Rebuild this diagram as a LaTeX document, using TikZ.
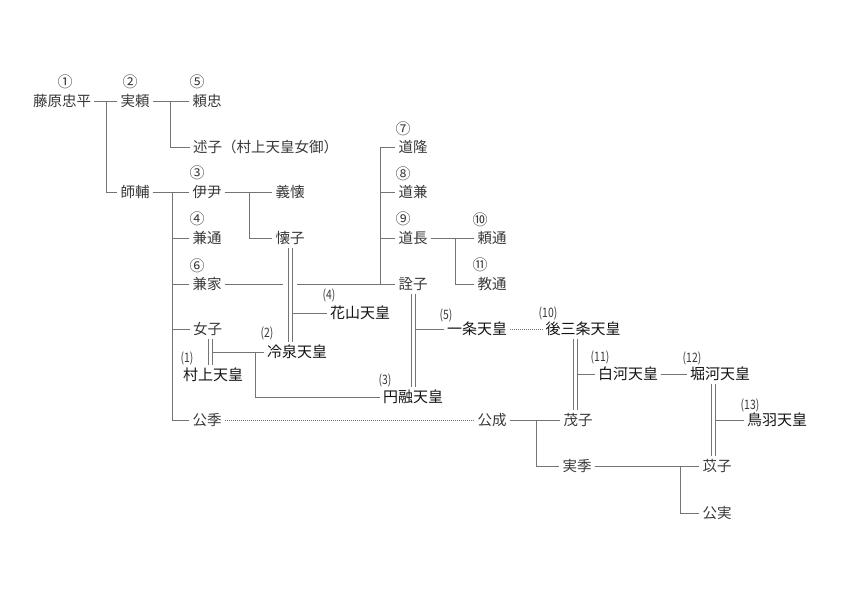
\documentclass[tikz,border=0pt]{standalone}
\usepackage{fontspec}
\setmainfont{Noto Sans CJK JP}
\usepackage{xcolor}
\usepackage{tikz}

\definecolor{linegray}{HTML}{747474}
\definecolor{namegray}{HTML}{383838}
\definecolor{tennoblack}{HTML}{151515}

\newcommand{\pn}[1]{\scalebox{0.8}[1]{(#1)}}
% two thin lines for a marriage (shift, from, to)
\newcommand{\couple}[3]{\draw [line] ([xshift=#1-2pt]#2) -- ([xshift=#1-2pt]#3) ([xshift=#1+2pt]#2) -- ([xshift=#1+2pt]#3);}

\begin{document}
\begin{tikzpicture}[x=1pt, y=-1pt,
  person/.style={inner sep=3pt, text height=12.6pt, text depth=1.8pt, font=\fontsize{14.5}{16}\selectfont, text=namegray},
  tenno/.style={person, font=\fontsize{15}{16}\selectfont, text=tennoblack},
  num/.style={inner sep=0pt, font=\fontsize{15}{16}\selectfont, text=namegray},
  pnum/.style={inner sep=0pt, font=\fontsize{13}{14}\selectfont, text=namegray},
  line/.style={draw=linegray, line width=0.85pt},
  faint/.style={draw=linegray, line width=0.6pt, dash pattern=on 0.7pt off 1.3pt}]

\useasboundingbox (0,0) rectangle (841,595);

% Nodes
\node (tadahira) [person] at (62,101) {藤原忠平};
\node (saneyori) [person] at (135,101) {実頼};
\node (yoritada) [person] at (207,101) {頼忠};
\node (nobuko) [person, anchor=west] at (190,147) {述子（村上天皇女御）};
\node (morosuke) [person] at (135,192) {師輔};
\node (koretada) [person] at (207,192) {伊尹};
\node (yoshichika) [person] at (290,192) {義懐};
\node (kanemichi) [person] at (207,238) {兼通};
\node (kaishi) [person] at (290,238) {懐子};
\node (kaneie) [person] at (207,284) {兼家};
\node (nyoshi) [person] at (207.5,329) {女子};
\node (murakami) [tenno] at (213,375) {村上天皇};
\node (kinsue) [person] at (207,420) {公季};
\node (kazan) [tenno] at (360,313) {花山天皇};
\node (reizei) [tenno] at (297,352) {冷泉天皇};
\node (enyu) [tenno] at (413,397) {円融天皇};

\node (michitaka) [person] at (413,147) {道隆};
\node (michikane) [person] at (413,192) {道兼};
\node (michinaga) [person] at (413,238) {道長};
\node (senshi) [person] at (413,284) {詮子};
\node (yorimichi) [person] at (492,238) {頼通};
\node (norimichi) [person] at (492,284) {教通};

\node (ichijo) [tenno] at (477,329) {一条天皇};
\node (gosanjo) [tenno] at (583,329) {後三条天皇};
\node (shirakawa) [tenno] at (628,374) {白河天皇};
\node (horikawa) [tenno] at (720,374) {堀河天皇};
\node (toba) [tenno] at (777,420) {鳥羽天皇};
\node (kinnari) [person] at (492,420) {公成};
\node (shigeko) [person] at (578,420) {茂子};
\node (sanesue) [person] at (577,466) {実季};
\node (ishi) [person] at (717,466) {苡子};
\node (kinzane) [person] at (717,513) {公実};

% Numbers
\node (n1) [num] at (65,82) {①};
\node (n2) [num] at (130,82) {②};
\node (n5) [num] at (197,82) {⑤};
\node (n3) [num] at (197,173) {③};
\node (n4) [num] at (197,219) {④};
\node (n6) [num] at (197,266) {⑥};
\node (n7) [num] at (403,129) {⑦};
\node (n8) [num] at (403,174) {⑧};
\node (n9) [num] at (403,219) {⑨};
\node (n10) [num] at (480,220) {⑩};
\node (n11) [num] at (480,265) {⑪};

\node (p1) [pnum] at (187,358) {\pn{1}};
\node (p2) [pnum] at (267,333) {\pn{2}};
\node (p3) [pnum] at (385,380) {\pn{3}};
\node (p4) [pnum] at (329,295) {\pn{4}};
\node (p5) [pnum] at (446,315) {\pn{5}};
\node (p10) [pnum] at (548,313) {\pn{10}};
\node (p11) [pnum] at (600,357) {\pn{11}};
\node (p12) [pnum] at (692,358) {\pn{12}};
\node (p13) [pnum] at (750,405) {\pn{13}};

% Lines
\coordinate (j1) at (106,101);
\coordinate (j2) at (170,101);
\coordinate (j3) at (172,192);
\coordinate (j4) at (249,192);
\coordinate (j5) at (380,284);
\coordinate (j6) at (455,238);
\coordinate (j7) at (255,352);
\coordinate (j8) at (536,420);
\coordinate (j9) at (680,466);

\draw [line] (tadahira) -- (saneyori);
\draw [line] (j1) |- (morosuke);
\draw [line] (saneyori) -- (yoritada);
\draw [line] (j2) |- (nobuko);

\draw [line] (morosuke) -- (koretada);
\draw [line] (j3) |- (kanemichi) (j3) |- (kaneie) (j3) |- (nyoshi) (j3) |- (kinsue);
\draw [line] (koretada) -- (yoshichika);
\draw [line] (j4) |- (kaishi);

\draw [line] (kaneie) -- ([xshift=-7pt]kaishi |- kaneie);
\draw [line] ([xshift=7pt]kaishi |- kaneie) -- (senshi);
\draw [line] (j5) |- (michitaka) (j5) |- (michikane) (j5) |- (michinaga);
\draw [line] (michinaga) -- (yorimichi);
\draw [line] (j6) |- (norimichi);

% marriages
\couple{0pt}{kaishi.south}{kaishi.south |- reizei.north}
\draw [line] ([xshift=2pt]kaishi |- kazan) -- (kazan);

\couple{3pt}{nyoshi.south}{nyoshi.south |- murakami.north}
\draw [line] ([xshift=5pt]nyoshi.south |- reizei) -- (reizei);
\draw [line] (j7) |- (enyu);

\couple{0pt}{senshi.south}{senshi.south |- enyu.north}
\draw [line] ([xshift=2pt]senshi |- ichijo) -- (ichijo);
\draw [faint] (ichijo) -- (gosanjo);

\couple{-2.5pt}{shigeko.north |- gosanjo.south}{shigeko.north}
\draw [line] ([xshift=-0.5pt]shigeko |- shirakawa) -- (shirakawa);
\draw [line] (shirakawa) -- (horikawa);

\couple{-4pt}{ishi.north |- horikawa.south}{ishi.north}
\draw [line] ([xshift=-2pt]ishi |- toba) -- (toba);

\draw [faint] (kinsue) -- (kinnari);
\draw [line] (kinnari) -- (shigeko);
\draw [line] (j8) |- (sanesue);
\draw [line] (sanesue) -- (ishi);
\draw [line] (j9) |- (kinzane);

\end{tikzpicture}
\end{document}
